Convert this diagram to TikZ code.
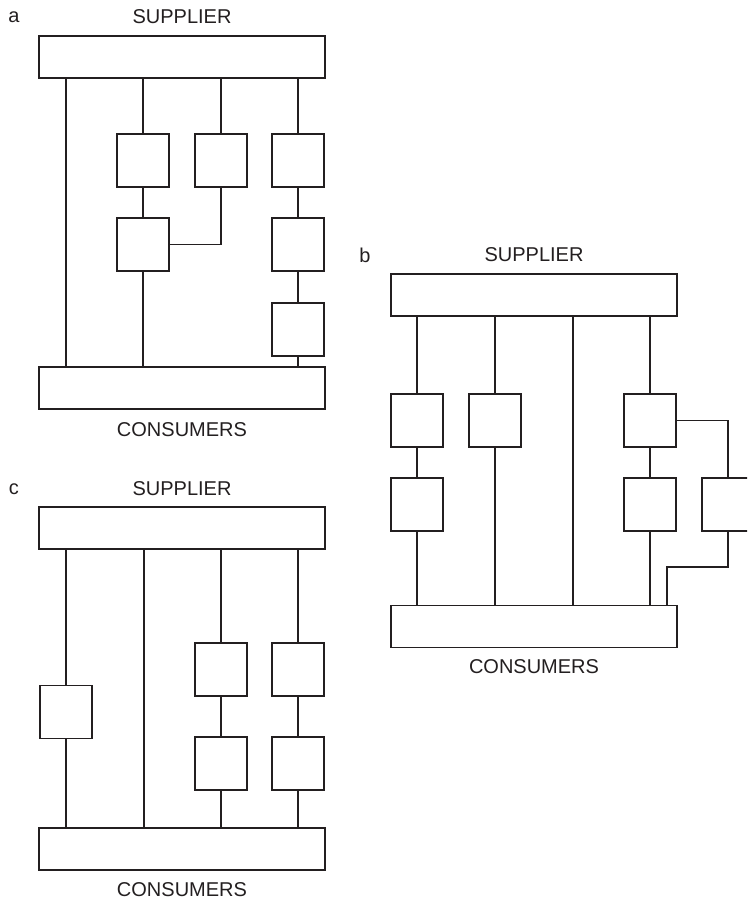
\documentclass[tikz,border=0pt]{standalone}
\usepackage{fontspec}
\setmainfont{Liberation Sans}
\usepackage{tikz}
\usetikzlibrary{positioning}
\definecolor{inkDark}{RGB}{35, 31, 32}
\tikzset{
    bar/.style={draw=inkDark, line width=1.1pt, minimum width=286pt, minimum height=42pt, inner sep=0pt, outer sep=0pt},
    unit/.style={draw=inkDark, line width=1.1pt, minimum width=52pt, minimum height=53pt, inner sep=0pt, outer sep=0pt},
    wire/.style={draw=inkDark, line width=1.1pt},
    caption/.style={text=inkDark, font=\fontsize{20}{24}\selectfont}
}

\begin{document}
\begin{tikzpicture}[x=1pt, y=-1pt]
    % Picture frame (pixel units, y downwards)
    \clip (0,0) rectangle (747,901);

    % ---------- a ----------
    \node[caption] (labA) at (14,17) {a};
    \node[caption] (supA) at (182,17) {SUPPLIER};
    \node[bar] (topA) at (182,57) {};
    \node[bar] (botA) at (182,388) {};
    \node[caption] (conA) at (182,430) {CONSUMERS};

    \coordinate (a0) at (66,0);
    \node[unit] (a11) at (143,160.5) {};
    \node[unit] (a12) at (143,244.5) {};
    \node[unit] (a21) at (221,160.5) {};
    \node[unit] (a31) at (298,160.5) {};
    \node[unit] (a32) at (298,244.5) {};
    \node[unit] (a33) at (298,329.5) {};

    \draw[wire] (topA.south -| a0) -- (botA.north -| a0);
    \draw[wire] (topA.south -| a11) -- (a11.north);
    \draw[wire] (a11.south) -- (a12.north);
    \draw[wire] (a12.south) -- (botA.north -| a12);
    \draw[wire] (topA.south -| a21) -- (a21.north);
    \draw[wire] (a21.south) |- (a12.east);
    \draw[wire] (topA.south -| a31) -- (a31.north);
    \draw[wire] (a31.south) -- (a32.north);
    \draw[wire] (a32.south) -- (a33.north);
    \draw[wire] (a33.south) -- (botA.north -| a33);

    % ---------- b ----------
    \node[caption] (labB) at (365,255) {b};
    \node[caption] (supB) at (534,255) {SUPPLIER};
    \node[bar] (topB) at (534,295) {};
    \node[bar] (botB) at (534,626.5) {};
    \node[caption] (conB) at (534,667) {CONSUMERS};

    \coordinate (b3) at (573,0);
    \coordinate (bk) at (667,567);
    \node[unit] (b11) at (417,420.5) {};
    \node[unit] (b12) at (417,504.5) {};
    \node[unit] (b21) at (495,420.5) {};
    \node[unit] (b41) at (650,420.5) {};
    \node[unit] (b42) at (650,504.5) {};
    \node[unit] (b51) at (728,504.5) {};

    \draw[wire] (topB.south -| b11) -- (b11.north);
    \draw[wire] (b11.south) -- (b12.north);
    \draw[wire] (b12.south) -- (botB.north -| b12);
    \draw[wire] (topB.south -| b21) -- (b21.north);
    \draw[wire] (b21.south) -- (botB.north -| b21);
    \draw[wire] (topB.south -| b3) -- (botB.north -| b3);
    \draw[wire] (topB.south -| b41) -- (b41.north);
    \draw[wire] (b41.south) -- (b42.north);
    \draw[wire] (b42.south) -- (botB.north -| b42);
    \draw[wire] (b41.east) -| (b51.north);
    \draw[wire] (b51.south) |- (bk) -- (botB.north -| bk);

    % ---------- c ----------
    \node[caption] (labC) at (14,489) {c};
    \node[caption] (supC) at (182,489) {SUPPLIER};
    \node[bar] (topC) at (182,528) {};
    \node[bar] (botC) at (182,849) {};
    \node[caption] (conC) at (182,890) {CONSUMERS};

    \coordinate (c2) at (144,0);
    \node[unit] (c11) at (66,712) {};
    \node[unit] (c31) at (221,669.5) {};
    \node[unit] (c32) at (221,763.5) {};
    \node[unit] (c41) at (298,669.5) {};
    \node[unit] (c42) at (298,763.5) {};

    \draw[wire] (topC.south -| c11) -- (c11.north);
    \draw[wire] (c11.south) -- (botC.north -| c11);
    \draw[wire] (topC.south -| c2) -- (botC.north -| c2);
    \draw[wire] (topC.south -| c31) -- (c31.north);
    \draw[wire] (c31.south) -- (c32.north);
    \draw[wire] (c32.south) -- (botC.north -| c32);
    \draw[wire] (topC.south -| c41) -- (c41.north);
    \draw[wire] (c41.south) -- (c42.north);
    \draw[wire] (c42.south) -- (botC.north -| c42);
\end{tikzpicture}
\end{document}
